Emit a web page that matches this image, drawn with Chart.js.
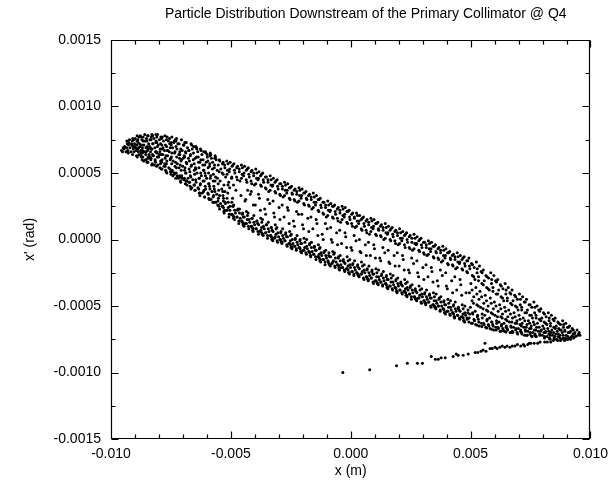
<!DOCTYPE html>
<html>
<head>
<meta charset="utf-8">
<script src="https://cdn.jsdelivr.net/npm/chart.js@4.4.1/dist/chart.umd.min.js"></script>
<style>
  html, body { margin: 0; padding: 0; background: #fff; }
</style>
</head>
<body>
<canvas id="chart" width="615" height="482"></canvas>
<script>
// --- Data: [x in mm, x' in mrad] ---
const chartTitle = 'Particle Distribution Downstream of the Primary Collimator @ Q4';

const xTickValues = [-0.010, -0.005, 0.000, 0.005, 0.010];
const xTickLabels = ['-0.010', '-0.005', '0.000', '0.005', '0.010'];
const yTickValues = [-0.0015, -0.0010, -0.0005, 0.0000, 0.0005, 0.0010, 0.0015];
const yTickLabels = ['-0.0015', '-0.0010', '-0.0005', '0.0000', '0.0005', '0.0010', '0.0015'];

// left end of the ellipse, filled
const leftCore = [
  [-9.56,0.67],[-9.49,0.69],[-9.52,0.66],
  [-9.43,0.70],[-9.37,0.66],[-9.32,0.72],[-9.46,0.68],[-9.35,0.69],
  [-9.26,0.73],[-9.21,0.69],[-9.17,0.66],[-9.13,0.71],[-9.28,0.65],[-9.11,0.74],[-9.23,0.75],
  [-9.06,0.75],[-9.02,0.72],[-8.97,0.69],[-9.04,0.66],[-8.94,0.63],[-8.92,0.74],[-9.08,0.70],[-8.99,0.76],[-8.95,0.67],
  [-8.84,0.77],[-8.87,0.73],[-8.79,0.70],[-8.76,0.67],[-8.83,0.64],[-8.73,0.62],[-8.71,0.75],[-8.89,0.68],[-8.78,0.78],[-8.81,0.72],[-8.74,0.65],
  [-8.66,0.77],[-8.58,0.74],[-8.63,0.71],[-8.54,0.69],[-8.61,0.66],[-8.67,0.62],[-8.56,0.60],[-8.52,0.76],[-8.69,0.69],[-8.59,0.79],[-8.64,0.59],[-8.55,0.64],
  [-8.45,0.78],[-8.38,0.75],[-8.43,0.72],[-8.36,0.69],[-8.48,0.67],[-8.41,0.64],[-8.33,0.61],[-8.46,0.58],[-8.32,0.77],[-8.39,0.70],[-8.35,0.66],[-8.44,0.61],
  [-8.27,0.78],[-8.21,0.76],[-8.25,0.72],[-8.17,0.69],[-8.14,0.66],[-8.23,0.63],[-8.16,0.60],[-8.28,0.57],[-8.12,0.74],[-8.19,0.56],[-8.29,0.68],[-8.13,0.79],
  [-8.06,0.79],[-7.98,0.75],[-8.03,0.71],[-7.95,0.68],[-8.08,0.65],[-8.01,0.62],[-7.93,0.59],[-8.05,0.56],[-7.96,0.54],[-8.09,0.73],[-7.92,0.77],[-7.99,0.64],
  [-7.86,0.77],[-7.81,0.74],[-7.88,0.71],[-7.77,0.67],[-7.84,0.64],[-7.74,0.61],[-7.89,0.58],[-7.79,0.55],[-7.72,0.52],[-7.83,0.69],[-7.75,0.78],[-7.87,0.53],
  [-7.66,0.77],[-7.61,0.74],[-7.68,0.70],[-7.57,0.66],[-7.64,0.63],[-7.53,0.60],[-7.69,0.57],[-7.59,0.54],[-7.52,0.51],[-7.63,0.67],[-7.55,0.72],[-7.67,0.50],
  [-7.46,0.77],[-7.38,0.73],[-7.43,0.69],[-7.35,0.65],[-7.48,0.62],[-7.41,0.59],[-7.33,0.55],[-7.45,0.52],[-7.37,0.49],[-7.49,0.71],[-7.32,0.75],[-7.42,0.48],
  [-7.27,0.76],[-7.21,0.72],[-7.25,0.68],[-7.17,0.64],[-7.14,0.61],[-7.23,0.57],[-7.16,0.54],[-7.28,0.50],[-7.12,0.47],[-7.19,0.46],[-7.29,0.74],[-7.13,0.66],
  [-7.06,0.75],[-6.98,0.71],[-7.03,0.67],[-6.95,0.63],[-7.08,0.59],[-7.01,0.55],[-6.93,0.52],[-7.05,0.48],[-6.96,0.45],[-7.09,0.43],[-6.92,0.73],[-6.99,0.61],
  [-6.86,0.73],[-6.81,0.69],[-6.88,0.65],[-6.77,0.61],[-6.84,0.57],[-6.74,0.53],[-6.89,0.50],[-6.79,0.46],[-6.72,0.43],[-6.83,0.41],[-6.75,0.67],[-6.87,0.44],
  [-6.66,0.72],[-6.61,0.68],[-6.68,0.64],[-6.57,0.60],[-6.64,0.56],[-6.53,0.52],[-6.69,0.48],[-6.59,0.45],[-6.52,0.41],[-6.63,0.39],[-6.55,0.70],[-6.67,0.38],
  [-6.46,0.70],[-6.38,0.66],[-6.43,0.62],[-6.35,0.58],[-6.48,0.54],[-6.41,0.50],[-6.33,0.46],[-6.45,0.43],[-6.37,0.39],[-6.49,0.37],[-6.32,0.35],[-6.42,0.68],
  [-6.27,0.68],[-6.21,0.64],[-6.25,0.60],[-6.17,0.56],[-6.14,0.52],[-6.23,0.48],[-6.16,0.44],[-6.28,0.41],[-6.12,0.37],[-6.19,0.35],[-6.29,0.33],[-6.13,0.66],
  [-6.06,0.66],[-5.98,0.62],[-6.03,0.58],[-5.95,0.54],[-6.08,0.50],[-6.01,0.46],[-5.93,0.42],[-6.05,0.38],[-5.96,0.35],[-6.09,0.32],[-5.92,0.31],[-5.99,0.64],
  [-5.86,0.65],[-5.81,0.61],[-5.88,0.57],[-5.77,0.53],[-5.84,0.48],[-5.74,0.44],[-5.89,0.40],[-5.79,0.36],[-5.72,0.33],[-5.83,0.30],[-5.75,0.28],[-5.87,0.63],
  [-5.66,0.63],[-5.61,0.60],[-5.68,0.56],[-5.57,0.52],[-5.64,0.47],[-5.53,0.42],[-5.69,0.38],[-5.59,0.34],[-5.52,0.31],[-5.63,0.28],[-5.55,0.26],[-5.67,0.61]
];

// second pass over the left end, between the first-pass dots
const leftFill = [
  [-9.30,0.67],[-9.27,0.71],[-9.34,0.74],
  [-9.10,0.64],[-9.07,0.68],[-9.15,0.72],[-9.09,0.76],[-9.02,0.70],
  [-8.90,0.62],[-8.86,0.66],[-8.93,0.71],[-8.88,0.75],[-8.85,0.69],[-8.91,0.78],
  [-8.70,0.60],[-8.75,0.63],[-8.68,0.67],[-8.72,0.71],[-8.66,0.74],[-8.74,0.77],[-8.69,0.65],
  [-8.50,0.58],[-8.46,0.62],[-8.53,0.66],[-8.49,0.70],[-8.51,0.74],[-8.47,0.78],[-8.53,0.60],[-8.44,0.68],
  [-8.30,0.56],[-8.34,0.60],[-8.27,0.64],[-8.31,0.68],[-8.26,0.72],[-8.33,0.75],[-8.29,0.79],[-8.36,0.62],
  [-8.10,0.55],[-8.14,0.58],[-8.07,0.62],[-8.11,0.66],[-8.06,0.70],[-8.13,0.73],[-8.09,0.77],[-8.16,0.59],
  [-7.90,0.53],[-7.94,0.57],[-7.87,0.60],[-7.91,0.64],[-7.86,0.68],[-7.93,0.72],[-7.89,0.76],[-7.96,0.66],
  [-7.70,0.51],[-7.74,0.55],[-7.67,0.59],[-7.71,0.63],[-7.66,0.67],[-7.73,0.71],[-7.69,0.75],[-7.76,0.57],
  [-7.50,0.49],[-7.54,0.53],[-7.47,0.57],[-7.51,0.61],[-7.46,0.65],[-7.53,0.69],[-7.49,0.73],[-7.56,0.76],[-7.44,0.51],
  [-7.30,0.46],[-7.34,0.50],[-7.27,0.54],[-7.31,0.58],[-7.26,0.62],[-7.33,0.66],[-7.29,0.70],[-7.36,0.74],[-7.24,0.48],
  [-7.10,0.44],[-7.14,0.48],[-7.07,0.52],[-7.11,0.56],[-7.06,0.60],[-7.13,0.64],[-7.09,0.68],[-7.16,0.72],[-7.04,0.46],
  [-6.90,0.42],[-6.94,0.46],[-6.87,0.50],[-6.91,0.54],[-6.86,0.58],[-6.93,0.62],[-6.89,0.66],[-6.96,0.71],[-6.84,0.44],
  [-6.70,0.40],[-6.74,0.43],[-6.67,0.47],[-6.71,0.51],[-6.66,0.55],[-6.73,0.59],[-6.69,0.63],[-6.76,0.67],[-6.64,0.71],
  [-6.50,0.37],[-6.54,0.41],[-6.47,0.45],[-6.51,0.49],[-6.46,0.53],[-6.53,0.57],[-6.49,0.61],[-6.56,0.65],[-6.44,0.69],
  [-6.30,0.35],[-6.34,0.38],[-6.27,0.42],[-6.31,0.46],[-6.26,0.50],[-6.33,0.54],[-6.29,0.58],[-6.36,0.62],[-6.24,0.67],
  [-6.10,0.32],[-6.14,0.36],[-6.07,0.40],[-6.11,0.44],[-6.06,0.48],[-6.13,0.52],[-6.09,0.56],[-6.16,0.60],[-6.04,0.65],
  [-5.90,0.30],[-5.94,0.34],[-5.87,0.38],[-5.91,0.42],[-5.86,0.46],[-5.93,0.50],[-5.89,0.55],[-5.96,0.59],[-5.84,0.64],
  [-5.70,0.28],[-5.74,0.32],[-5.67,0.36],[-5.71,0.40],[-5.66,0.44],[-5.73,0.49],[-5.69,0.54],[-5.76,0.58],[-5.64,0.62],
  [-5.50,0.25],[-5.54,0.29],[-5.47,0.33],[-5.51,0.37],[-5.56,0.46],[-5.49,0.51],[-5.53,0.56],[-5.46,0.59]
];

// middle of the ellipse: upper band, sparse hollow, lower band
const midBand = [
  [-5.48,0.60],[-5.35,0.57],[-5.42,0.53],[-5.32,0.49],[-5.45,0.44],[-5.38,0.38],[-5.33,0.33],[-5.47,0.23],[-5.36,0.25],[-5.43,0.27],[-5.31,0.29],
  [-5.17,0.59],[-5.26,0.56],[-5.14,0.52],[-5.22,0.47],[-5.12,0.41],[-5.25,0.36],[-5.16,0.31],[-5.28,0.20],[-5.19,0.22],[-5.11,0.24],[-5.23,0.27],
  [-5.03,0.58],[-4.95,0.55],[-5.07,0.51],[-4.97,0.46],[-5.05,0.39],[-4.93,0.31],[-5.08,0.17],[-4.99,0.19],[-5.04,0.22],[-4.92,0.25],[-4.96,0.28],
  [-4.87,0.57],[-4.76,0.54],[-4.83,0.50],[-4.73,0.45],[-4.79,0.37],[-4.85,0.15],[-4.74,0.17],[-4.81,0.20],[-4.72,0.22],[-4.88,0.26],
  [-4.56,0.56],[-4.65,0.53],[-4.53,0.49],[-4.62,0.44],[-4.58,0.33],[-4.67,0.12],[-4.54,0.14],[-4.61,0.16],[-4.52,0.19],[-4.64,0.23],
  [-4.43,0.55],[-4.36,0.52],[-4.47,0.48],[-4.33,0.43],[-4.41,0.29],[-4.45,0.10],[-4.38,0.12],[-4.32,0.15],[-4.48,0.17],[-4.35,0.21],
  [-4.27,0.54],[-4.16,0.51],[-4.23,0.47],[-4.13,0.42],[-4.19,0.34],[-4.25,0.08],[-4.14,0.10],[-4.21,0.13],[-4.12,0.16],[-4.28,0.20],
  [-3.96,0.53],[-4.05,0.50],[-3.93,0.46],[-4.02,0.41],[-3.98,0.26],[-4.07,0.06],[-3.94,0.08],[-4.01,0.11],[-3.92,0.14],[-4.04,0.18],
  [-3.83,0.51],[-3.76,0.48],[-3.87,0.45],[-3.73,0.40],[-3.81,0.31],[-3.85,0.04],[-3.78,0.06],[-3.72,0.09],[-3.88,0.12],[-3.75,0.16],
  [-3.67,0.50],[-3.56,0.47],[-3.63,0.43],[-3.53,0.38],[-3.59,0.23],[-3.65,0.03],[-3.54,0.05],[-3.61,0.08],[-3.52,0.11],[-3.68,0.15],
  [-3.36,0.48],[-3.45,0.45],[-3.33,0.41],[-3.42,0.36],[-3.38,0.27],[-3.47,0.01],[-3.34,0.03],[-3.41,0.06],[-3.32,0.09],[-3.44,0.13],
  [-3.23,0.46],[-3.16,0.43],[-3.27,0.40],[-3.13,0.35],[-3.21,0.20],[-3.25,-0.01],[-3.18,0.01],[-3.12,0.04],[-3.28,0.07],[-3.15,0.11],
  [-3.07,0.45],[-2.96,0.42],[-3.03,0.38],[-2.93,0.33],[-2.99,0.24],[-3.05,-0.02],[-2.94,0.00],[-3.01,0.02],[-2.92,0.05],[-3.08,0.09],
  [-2.76,0.43],[-2.85,0.40],[-2.73,0.37],[-2.82,0.32],[-2.78,0.17],[-2.87,-0.03],[-2.74,-0.01],[-2.81,0.01],[-2.72,0.04],[-2.84,0.08],
  [-2.63,0.42],[-2.56,0.39],[-2.67,0.35],[-2.53,0.30],[-2.61,0.22],[-2.65,-0.05],[-2.58,-0.03],[-2.52,-0.01],[-2.68,0.02],[-2.55,0.06],
  [-2.47,0.40],[-2.36,0.37],[-2.43,0.34],[-2.33,0.29],[-2.39,0.14],[-2.45,-0.07],[-2.34,-0.05],[-2.41,-0.03],[-2.32,0.00],[-2.48,0.04],
  [-2.16,0.39],[-2.25,0.36],[-2.13,0.33],[-2.22,0.28],[-2.18,0.19],[-2.27,-0.08],[-2.14,-0.06],[-2.21,-0.04],[-2.12,-0.01],[-2.24,0.03],
  [-2.03,0.38],[-1.96,0.35],[-2.07,0.31],[-1.93,0.26],[-2.01,0.11],[-2.05,-0.10],[-1.98,-0.08],[-1.92,-0.06],[-2.08,-0.03],[-1.95,0.01],
  [-1.87,0.36],[-1.76,0.33],[-1.83,0.30],[-1.73,0.25],[-1.79,0.16],[-1.85,-0.11],[-1.74,-0.09],[-1.81,-0.07],[-1.72,-0.04],[-1.84,0.00],
  [-1.56,0.35],[-1.65,0.32],[-1.53,0.28],[-1.62,0.23],[-1.58,0.08],[-1.67,-0.13],[-1.54,-0.11],[-1.61,-0.09],[-1.52,-0.06],[-1.64,-0.02],
  [-1.43,0.33],[-1.36,0.30],[-1.47,0.26],[-1.33,0.21],[-1.41,0.12],[-1.45,-0.15],[-1.38,-0.13],[-1.32,-0.11],[-1.48,-0.08],[-1.35,-0.04],
  [-1.27,0.31],[-1.16,0.28],[-1.23,0.24],[-1.13,0.19],[-1.19,0.04],[-1.25,-0.17],[-1.14,-0.15],[-1.21,-0.12],[-1.12,-0.10],[-1.28,-0.06],
  [-0.96,0.29],[-1.05,0.26],[-0.93,0.22],[-1.02,0.17],[-0.98,0.08],[-1.07,-0.19],[-0.94,-0.17],[-1.01,-0.14],[-0.92,-0.12],[-1.04,-0.08],
  [-0.83,0.27],[-0.76,0.25],[-0.87,0.21],[-0.73,0.16],[-0.81,0.00],[-0.85,-0.20],[-0.78,-0.18],[-0.72,-0.16],[-0.88,-0.13],[-0.75,-0.09],
  [-0.67,0.26],[-0.56,0.23],[-0.63,0.19],[-0.53,0.14],[-0.59,0.05],[-0.65,-0.21],[-0.54,-0.19],[-0.61,-0.17],[-0.52,-0.14],[-0.68,-0.10],
  [-0.36,0.25],[-0.45,0.22],[-0.33,0.18],[-0.42,0.13],[-0.38,-0.03],[-0.47,-0.23],[-0.34,-0.21],[-0.41,-0.19],[-0.32,-0.16],[-0.44,-0.12],
  [-0.23,0.24],[-0.16,0.21],[-0.27,0.17],[-0.13,0.12],[-0.21,0.02],[-0.25,-0.24],[-0.18,-0.22],[-0.12,-0.20],[-0.28,-0.17],[-0.15,-0.13],
  [-0.07,0.22],[0.04,0.19],[-0.03,0.15],[0.07,0.10],[0.01,-0.06],[-0.05,-0.26],[0.06,-0.24],[-0.01,-0.21],[0.08,-0.19],[-0.04,-0.15],
  [0.24,0.20],[0.15,0.17],[0.27,0.14],[0.18,0.09],[0.22,-0.01],[0.13,-0.27],[0.26,-0.25],[0.19,-0.23],[0.28,-0.20],[0.16,-0.16],
  [0.37,0.18],[0.44,0.15],[0.33,0.12],[0.47,0.07],[0.39,-0.09],[0.35,-0.28],[0.42,-0.26],[0.48,-0.24],[0.32,-0.21],[0.45,-0.17],
  [0.53,0.17],[0.64,0.14],[0.57,0.10],[0.67,0.05],[0.61,-0.04],[0.55,-0.30],[0.66,-0.28],[0.59,-0.25],[0.68,-0.23],[0.56,-0.19],
  [0.84,0.16],[0.75,0.13],[0.87,0.09],[0.78,0.04],[0.82,-0.12],[0.73,-0.31],[0.86,-0.29],[0.79,-0.27],[0.88,-0.24],[0.76,-0.20],
  [0.97,0.15],[1.04,0.12],[0.93,0.08],[1.07,0.03],[0.99,-0.07],[0.95,-0.33],[1.02,-0.31],[1.08,-0.28],[0.92,-0.26],[1.05,-0.22],
  [1.13,0.13],[1.24,0.10],[1.17,0.07],[1.27,0.02],[1.21,-0.14],[1.15,-0.34],[1.26,-0.32],[1.19,-0.30],[1.28,-0.27],[1.16,-0.23],
  [1.44,0.12],[1.35,0.09],[1.47,0.05],[1.38,0.00],[1.42,-0.10],[1.33,-0.35],[1.46,-0.33],[1.39,-0.31],[1.48,-0.28],[1.36,-0.24],
  [1.57,0.10],[1.64,0.07],[1.53,0.04],[1.67,-0.01],[1.59,-0.17],[1.55,-0.37],[1.62,-0.35],[1.68,-0.32],[1.52,-0.30],[1.65,-0.26],
  [1.73,0.09],[1.84,0.06],[1.77,0.02],[1.87,-0.03],[1.81,-0.12],[1.75,-0.38],[1.86,-0.36],[1.79,-0.34],[1.88,-0.31],[1.76,-0.27],
  [2.04,0.08],[1.95,0.05],[2.07,0.01],[1.98,-0.04],[2.02,-0.20],[1.93,-0.40],[2.06,-0.38],[1.99,-0.35],[2.08,-0.33],[1.96,-0.29],
  [2.17,0.06],[2.24,0.03],[2.13,-0.01],[2.27,-0.06],[2.19,-0.15],[2.15,-0.41],[2.22,-0.39],[2.28,-0.37],[2.12,-0.34],[2.25,-0.30],
  [2.33,0.05],[2.44,0.02],[2.37,-0.02],[2.47,-0.07],[2.41,-0.23],[2.35,-0.43],[2.46,-0.41],[2.39,-0.38],[2.48,-0.36],[2.36,-0.32],
  [2.64,0.04],[2.55,0.01],[2.67,-0.03],[2.58,-0.08],[2.62,-0.18],[2.53,-0.45],[2.66,-0.43],[2.59,-0.40],[2.68,-0.38],[2.56,-0.34],
  [2.77,0.02],[2.84,-0.01],[2.73,-0.04],[2.87,-0.09],[2.79,-0.25],[2.75,-0.46],[2.82,-0.44],[2.88,-0.42],[2.72,-0.39],[2.85,-0.35],
  [2.93,0.01],[3.04,-0.02],[2.97,-0.06],[3.07,-0.11],[3.01,-0.21],[2.95,-0.48],[3.06,-0.46],[2.99,-0.43],[3.08,-0.41],[2.96,-0.37],
  [3.24,-0.01],[3.15,-0.04],[3.27,-0.07],[3.18,-0.12],[3.22,-0.28],[3.13,-0.49],[3.26,-0.47],[3.19,-0.45],[3.28,-0.42],[3.16,-0.38],
  [3.37,-0.02],[3.44,-0.05],[3.33,-0.09],[3.47,-0.14],[3.39,-0.24],[3.35,-0.51],[3.42,-0.49],[3.48,-0.46],[3.32,-0.44],[3.45,-0.40],
  [3.53,-0.04],[3.64,-0.07],[3.57,-0.10],[3.67,-0.15],[3.61,-0.31],[3.55,-0.52],[3.66,-0.50],[3.59,-0.48],[3.68,-0.45],[3.56,-0.41],
  [3.84,-0.05],[3.75,-0.08],[3.87,-0.12],[3.78,-0.17],[3.82,-0.27],[3.73,-0.54],[3.86,-0.52],[3.79,-0.50],[3.88,-0.47],[3.76,-0.43],
  [3.97,-0.07],[4.04,-0.10],[3.93,-0.14],[4.07,-0.19],[3.99,-0.35],[3.95,-0.56],[4.02,-0.54],[4.08,-0.51],[3.92,-0.49],[4.05,-0.45],
  [4.13,-0.09],[4.24,-0.12],[4.17,-0.15],[4.27,-0.20],[4.21,-0.31],[4.15,-0.57],[4.26,-0.55],[4.19,-0.53],[4.28,-0.50],[4.16,-0.46],
  [4.44,-0.10],[4.35,-0.13],[4.47,-0.17],[4.38,-0.22],[4.42,-0.38],[4.33,-0.59],[4.46,-0.57],[4.39,-0.54],[4.48,-0.52],[4.36,-0.47],
  [4.57,-0.12],[4.64,-0.15],[4.53,-0.18],[4.67,-0.23],[4.59,-0.34],[4.55,-0.60],[4.62,-0.58],[4.68,-0.56],[4.52,-0.53],[4.65,-0.49],
  [4.73,-0.13],[4.84,-0.16],[4.77,-0.20],[4.87,-0.25],[4.81,-0.40],[4.75,-0.62],[4.86,-0.60],[4.79,-0.57],[4.88,-0.55],[4.76,-0.50]
];

// second pass over the two bands of the middle part
const midFill = [
  [-5.32,0.58],[-5.25,0.54],[-5.36,0.50],[-5.27,0.22],[-5.35,0.25],[-5.24,0.28],[-5.31,0.31],[-5.29,0.41],[-5.34,0.36],
  [-5.12,0.57],[-5.05,0.53],[-5.16,0.49],[-5.07,0.19],[-5.15,0.22],[-5.04,0.25],[-5.11,0.28],[-5.09,0.43],[-5.13,0.35],
  [-4.92,0.56],[-4.85,0.52],[-4.96,0.47],[-4.87,0.17],[-4.95,0.19],[-4.84,0.22],[-4.91,0.25],[-4.89,0.41],
  [-4.72,0.55],[-4.65,0.51],[-4.76,0.47],[-4.67,0.14],[-4.75,0.17],[-4.64,0.20],[-4.71,0.23],
  [-4.52,0.54],[-4.45,0.50],[-4.56,0.46],[-4.47,0.12],[-4.55,0.14],[-4.44,0.17],[-4.51,0.20],
  [-4.32,0.53],[-4.25,0.49],[-4.36,0.45],[-4.27,0.10],[-4.35,0.12],[-4.24,0.15],[-4.31,0.18],
  [-4.12,0.52],[-4.05,0.48],[-4.16,0.44],[-4.07,0.08],[-4.15,0.10],[-4.04,0.13],[-4.11,0.16],
  [-3.92,0.50],[-3.85,0.46],[-3.96,0.42],[-3.87,0.06],[-3.95,0.08],[-3.84,0.11],[-3.91,0.14],
  [-3.72,0.49],[-3.65,0.45],[-3.76,0.41],[-3.67,0.04],[-3.75,0.07],[-3.64,0.10],[-3.71,0.13],
  [-3.52,0.47],[-3.45,0.43],[-3.56,0.39],[-3.47,0.03],[-3.55,0.05],[-3.44,0.08],[-3.51,0.11],
  [-3.32,0.45],[-3.25,0.41],[-3.36,0.37],[-3.27,0.01],[-3.35,0.03],[-3.24,0.06],[-3.31,0.09],
  [-3.12,0.44],[-3.05,0.40],[-3.16,0.36],[-3.07,-0.01],[-3.15,0.02],[-3.04,0.05],[-3.11,0.08],
  [-2.92,0.42],[-2.85,0.38],[-2.96,0.34],[-2.87,-0.02],[-2.95,0.00],[-2.84,0.03],[-2.91,0.06],
  [-2.72,0.41],[-2.65,0.37],[-2.76,0.33],[-2.67,-0.04],[-2.75,-0.01],[-2.64,0.02],[-2.71,0.05],
  [-2.52,0.39],[-2.45,0.35],[-2.56,0.31],[-2.47,-0.05],[-2.55,-0.03],[-2.44,0.00],[-2.51,0.03],
  [-2.32,0.38],[-2.25,0.34],[-2.36,0.30],[-2.27,-0.07],[-2.35,-0.05],[-2.24,-0.02],[-2.31,0.01],
  [-2.12,0.37],[-2.05,0.33],[-2.16,0.29],[-2.07,-0.09],[-2.15,-0.06],[-2.04,-0.03],[-2.11,0.00],
  [-1.92,0.35],[-1.85,0.31],[-1.96,0.27],[-1.87,-0.10],[-1.95,-0.08],[-1.84,-0.05],[-1.91,-0.02],
  [-1.72,0.34],[-1.65,0.30],[-1.76,0.26],[-1.67,-0.12],[-1.75,-0.09],[-1.64,-0.06],[-1.71,-0.03],
  [-1.52,0.32],[-1.45,0.28],[-1.56,0.24],[-1.47,-0.13],[-1.55,-0.11],[-1.44,-0.08],[-1.51,-0.05],
  [-1.32,0.30],[-1.25,0.26],[-1.36,0.22],[-1.27,-0.15],[-1.35,-0.13],[-1.24,-0.10],[-1.31,-0.07],
  [-1.12,0.28],[-1.05,0.24],[-1.16,0.20],[-1.07,-0.17],[-1.15,-0.15],[-1.04,-0.12],[-1.11,-0.09],
  [-0.92,0.26],[-0.85,0.22],[-0.96,0.18],[-0.87,-0.19],[-0.95,-0.16],[-0.84,-0.13],[-0.91,-0.10],
  [-0.72,0.25],[-0.65,0.21],[-0.76,0.17],[-0.67,-0.20],[-0.75,-0.17],[-0.64,-0.14],[-0.71,-0.11],
  [-0.52,0.24],[-0.45,0.20],[-0.56,0.16],[-0.47,-0.21],[-0.55,-0.19],[-0.44,-0.16],[-0.51,-0.13],
  [-0.32,0.23],[-0.25,0.19],[-0.36,0.15],[-0.27,-0.23],[-0.35,-0.21],[-0.24,-0.18],[-0.31,-0.15],
  [-0.12,0.21],[-0.05,0.17],[-0.16,0.13],[-0.07,-0.25],[-0.15,-0.22],[-0.04,-0.19],[-0.11,-0.16],
  [0.08,0.20],[0.15,0.16],[0.04,0.12],[0.13,-0.26],[0.05,-0.24],[0.16,-0.21],[0.09,-0.18],
  [0.28,0.18],[0.35,0.14],[0.24,0.10],[0.33,-0.27],[0.25,-0.25],[0.36,-0.22],[0.29,-0.19],
  [0.48,0.16],[0.55,0.12],[0.44,0.08],[0.53,-0.29],[0.45,-0.26],[0.56,-0.23],[0.49,-0.20],
  [0.68,0.15],[0.75,0.11],[0.64,0.07],[0.73,-0.30],[0.65,-0.28],[0.76,-0.25],[0.69,-0.22],
  [0.88,0.14],[0.95,0.10],[0.84,0.06],[0.93,-0.32],[0.85,-0.29],[0.96,-0.26],[0.89,-0.23],
  [1.08,0.12],[1.15,0.08],[1.04,0.04],[1.13,-0.33],[1.05,-0.31],[1.16,-0.28],[1.09,-0.25],
  [1.28,0.11],[1.35,0.07],[1.24,0.03],[1.33,-0.34],[1.25,-0.32],[1.36,-0.29],[1.29,-0.26],
  [1.48,0.09],[1.55,0.05],[1.44,0.01],[1.53,-0.36],[1.45,-0.33],[1.56,-0.30],[1.49,-0.27],
  [1.68,0.08],[1.75,0.04],[1.64,0.00],[1.73,-0.37],[1.65,-0.35],[1.76,-0.32],[1.69,-0.29],
  [1.88,0.07],[1.95,0.03],[1.84,-0.01],[1.93,-0.39],[1.85,-0.36],[1.96,-0.33],[1.89,-0.30],
  [2.08,0.05],[2.15,0.01],[2.04,-0.03],[2.13,-0.40],[2.05,-0.38],[2.16,-0.35],[2.09,-0.32],
  [2.28,0.04],[2.35,0.00],[2.24,-0.04],[2.33,-0.42],[2.25,-0.39],[2.36,-0.36],[2.29,-0.33],
  [2.48,0.03],[2.55,-0.02],[2.44,-0.06],[2.53,-0.43],[2.45,-0.41],[2.56,-0.38],[2.49,-0.35],
  [2.68,0.01],[2.75,-0.03],[2.64,-0.07],[2.73,-0.45],[2.65,-0.43],[2.76,-0.40],[2.69,-0.37],
  [2.88,0.00],[2.95,-0.04],[2.84,-0.08],[2.93,-0.47],[2.85,-0.44],[2.96,-0.41],[2.89,-0.38],
  [3.08,-0.02],[3.15,-0.06],[3.04,-0.10],[3.13,-0.48],[3.05,-0.46],[3.16,-0.43],[3.09,-0.40],
  [3.28,-0.03],[3.35,-0.07],[3.24,-0.11],[3.33,-0.50],[3.25,-0.47],[3.36,-0.44],[3.29,-0.41],
  [3.48,-0.05],[3.55,-0.09],[3.44,-0.13],[3.53,-0.51],[3.45,-0.49],[3.56,-0.46],[3.49,-0.43],
  [3.68,-0.06],[3.75,-0.10],[3.64,-0.14],[3.73,-0.53],[3.65,-0.50],[3.76,-0.47],[3.69,-0.44],
  [3.88,-0.08],[3.95,-0.12],[3.84,-0.16],[3.93,-0.55],[3.85,-0.52],[3.96,-0.49],[3.89,-0.46],
  [4.08,-0.10],[4.15,-0.14],[4.04,-0.18],[4.13,-0.56],[4.05,-0.54],[4.16,-0.51],[4.09,-0.48],
  [4.28,-0.11],[4.35,-0.15],[4.24,-0.19],[4.33,-0.58],[4.25,-0.55],[4.36,-0.52],[4.29,-0.49],
  [4.48,-0.13],[4.55,-0.17],[4.44,-0.21],[4.53,-0.59],[4.45,-0.57],[4.56,-0.54],[4.49,-0.51],
  [4.68,-0.14],[4.75,-0.18],[4.64,-0.22],[4.73,-0.61],[4.65,-0.58],[4.76,-0.55],[4.69,-0.52],
  [4.88,-0.16],[4.95,-0.20],[4.84,-0.24],[4.93,-0.62],[4.85,-0.59],[4.96,-0.56],[4.89,-0.53]
];

// loose particles inside the hollow of the ring
const hollow = [
  [-4.38,0.30],[-4.30,0.37],[-4.06,0.26],[-4.15,0.36],[-3.77,0.22],[-3.85,0.34],[-3.46,0.30],[-3.55,0.19],
  [-3.18,0.17],[-3.24,0.29],[-2.86,0.26],[-2.95,0.15],[-2.57,0.12],[-2.64,0.24],[-2.26,0.21],[-2.35,0.10],
  [-1.97,0.08],[-2.04,0.19],[-1.66,0.17],[-1.75,0.06],[-1.37,0.03],[-1.44,0.15],[-1.06,0.12],[-1.15,0.00],
  [-0.77,-0.02],[-0.84,0.09],[-0.46,0.07],[-0.55,-0.04],[-0.17,-0.06],[-0.24,0.05],[0.14,0.03],[0.05,-0.08],
  [0.43,-0.10],[0.36,0.00],[0.74,-0.02],[0.65,-0.12],[1.03,-0.14],[0.96,-0.04],[1.34,-0.06],[1.25,-0.16],
  [1.63,-0.18],[1.56,-0.08],[1.94,-0.10],[1.85,-0.20],[2.23,-0.23],[2.16,-0.12],[2.54,-0.14],[2.45,-0.25],
  [2.83,-0.28],[2.76,-0.16],[3.14,-0.19],[3.05,-0.30],[3.43,-0.32],[3.36,-0.21],[3.74,-0.23],[3.65,-0.35],
  [4.03,-0.37],[3.96,-0.25],[4.34,-0.28],[4.25,-0.40],[4.63,-0.42],[4.56,-0.30]
];

// the dark rim along the lower edge
const lowerRim = [
  [-5.31,0.24],[-5.29,0.21],[-4.91,0.18],[-4.89,0.16],[-4.51,0.13],[-4.49,0.11],[-4.11,0.09],[-4.09,0.07],
  [-3.71,0.05],[-3.69,0.04],[-3.31,0.02],[-3.29,0.00],[-2.91,-0.01],[-2.89,-0.02],[-2.51,-0.04],[-2.49,-0.06],
  [-2.11,-0.07],[-2.09,-0.09],[-1.71,-0.10],[-1.69,-0.12],[-1.31,-0.14],[-1.29,-0.16],[-0.91,-0.18],[-0.89,-0.19],
  [-0.51,-0.20],[-0.49,-0.22],[-0.11,-0.23],[-0.09,-0.25],[0.29,-0.26],[0.31,-0.27],[0.69,-0.29],[0.71,-0.30],
  [1.09,-0.32],[1.11,-0.33],[1.49,-0.34],[1.51,-0.36],[1.89,-0.37],[1.91,-0.39],[2.29,-0.40],[2.31,-0.42],
  [2.69,-0.44],[2.71,-0.45],[3.09,-0.47],[3.11,-0.48],[3.49,-0.50],[3.51,-0.51],[3.89,-0.53],[3.91,-0.55],
  [4.29,-0.56],[4.31,-0.58],[4.69,-0.59],[4.71,-0.61]
];

// right end of the ellipse, filled
const rightCore = [
  [4.93,-0.14],[5.04,-0.18],[4.97,-0.22],[5.07,-0.27],[5.01,-0.33],[4.95,-0.40],[5.06,-0.46],[4.99,-0.51],[5.08,-0.55],[4.94,-0.59],[5.03,-0.63],
  [5.24,-0.17],[5.15,-0.21],[5.27,-0.25],[5.18,-0.30],[5.22,-0.36],[5.13,-0.43],[5.26,-0.49],[5.19,-0.54],[5.28,-0.58],[5.16,-0.61],[5.21,-0.64],
  [5.37,-0.20],[5.44,-0.24],[5.33,-0.28],[5.47,-0.33],[5.39,-0.39],[5.35,-0.45],[5.42,-0.51],[5.48,-0.56],[5.32,-0.60],[5.45,-0.63],[5.36,-0.65],
  [5.53,-0.23],[5.64,-0.27],[5.57,-0.31],[5.67,-0.36],[5.61,-0.42],[5.55,-0.48],[5.66,-0.53],[5.59,-0.57],[5.68,-0.61],[5.56,-0.64],[5.63,-0.66],
  [5.84,-0.25],[5.75,-0.29],[5.87,-0.33],[5.78,-0.38],[5.82,-0.44],[5.73,-0.50],[5.86,-0.55],[5.79,-0.59],[5.88,-0.62],[5.76,-0.65],[5.81,-0.67],
  [5.97,-0.27],[6.04,-0.31],[5.93,-0.36],[6.07,-0.41],[5.99,-0.47],[5.95,-0.52],[6.02,-0.57],[6.08,-0.61],[5.92,-0.64],[6.05,-0.66],[5.96,-0.68],
  [6.13,-0.30],[6.24,-0.34],[6.17,-0.38],[6.27,-0.43],[6.21,-0.49],[6.15,-0.54],[6.26,-0.58],[6.19,-0.62],[6.28,-0.65],[6.16,-0.67],[6.23,-0.69],
  [6.44,-0.33],[6.35,-0.37],[6.47,-0.41],[6.38,-0.46],[6.42,-0.51],[6.33,-0.56],[6.46,-0.60],[6.39,-0.63],[6.48,-0.66],[6.36,-0.68],[6.41,-0.69],
  [6.57,-0.36],[6.64,-0.40],[6.53,-0.44],[6.67,-0.48],[6.59,-0.53],[6.55,-0.58],[6.62,-0.62],[6.68,-0.65],[6.52,-0.67],[6.65,-0.70],
  [6.73,-0.38],[6.84,-0.42],[6.77,-0.46],[6.87,-0.50],[6.81,-0.55],[6.75,-0.59],[6.86,-0.63],[6.79,-0.66],[6.88,-0.68],[6.76,-0.70],
  [7.04,-0.41],[6.95,-0.45],[7.07,-0.49],[6.98,-0.53],[7.02,-0.57],[6.93,-0.61],[7.06,-0.64],[6.99,-0.67],[7.08,-0.69],[6.96,-0.71],
  [7.17,-0.43],[7.24,-0.47],[7.13,-0.51],[7.27,-0.55],[7.19,-0.59],[7.15,-0.63],[7.22,-0.66],[7.28,-0.68],[7.12,-0.70],[7.25,-0.72],
  [7.33,-0.45],[7.44,-0.49],[7.37,-0.53],[7.47,-0.57],[7.41,-0.61],[7.35,-0.64],[7.46,-0.67],[7.39,-0.69],[7.48,-0.71],[7.36,-0.72],
  [7.64,-0.47],[7.55,-0.51],[7.67,-0.55],[7.58,-0.59],[7.62,-0.62],[7.53,-0.65],[7.66,-0.68],[7.59,-0.70],[7.68,-0.72],[7.56,-0.73],
  [7.77,-0.50],[7.84,-0.53],[7.73,-0.57],[7.87,-0.60],[7.79,-0.63],[7.75,-0.66],[7.82,-0.69],[7.88,-0.71],[7.72,-0.73],
  [7.93,-0.52],[8.04,-0.55],[7.97,-0.59],[8.07,-0.62],[8.01,-0.65],[7.95,-0.68],[8.06,-0.70],[7.99,-0.72],[8.08,-0.74],
  [8.24,-0.55],[8.15,-0.58],[8.27,-0.61],[8.18,-0.64],[8.22,-0.67],[8.13,-0.69],[8.26,-0.71],[8.19,-0.73],[8.28,-0.74],
  [8.37,-0.57],[8.44,-0.60],[8.33,-0.63],[8.47,-0.66],[8.39,-0.68],[8.35,-0.70],[8.42,-0.72],[8.48,-0.74],[8.32,-0.75],
  [8.53,-0.59],[8.64,-0.62],[8.57,-0.65],[8.67,-0.67],[8.61,-0.69],[8.55,-0.71],[8.66,-0.73],[8.59,-0.75],
  [8.84,-0.61],[8.75,-0.64],[8.87,-0.66],[8.78,-0.68],[8.82,-0.70],[8.73,-0.72],[8.86,-0.74],[8.79,-0.75],
  [8.97,-0.63],[9.04,-0.66],[8.93,-0.68],[9.07,-0.70],[8.99,-0.72],[8.95,-0.74],[9.06,-0.75],
  [9.13,-0.65],[9.24,-0.67],[9.17,-0.69],[9.27,-0.71],[9.21,-0.73],[9.15,-0.74],
  [9.44,-0.68],[9.35,-0.70],[9.47,-0.72],[9.38,-0.73],
  [9.53,-0.70],[9.56,-0.72],[9.51,-0.71]
];

// second pass over the right end
const rightFill = [
  [5.08,-0.19],[5.13,-0.28],[5.06,-0.38],[5.12,-0.48],[5.09,-0.56],[5.14,-0.60],[5.07,-0.63],
  [5.28,-0.22],[5.33,-0.31],[5.26,-0.41],[5.32,-0.50],[5.29,-0.57],[5.34,-0.62],[5.27,-0.645],
  [5.48,-0.25],[5.53,-0.34],[5.46,-0.43],[5.52,-0.52],[5.49,-0.59],[5.54,-0.63],[5.47,-0.655],
  [5.68,-0.28],[5.73,-0.37],[5.66,-0.46],[5.72,-0.54],[5.69,-0.60],[5.74,-0.64],[5.67,-0.665],
  [5.88,-0.30],[5.93,-0.39],[5.86,-0.48],[5.92,-0.56],[5.89,-0.62],[5.94,-0.65],[5.87,-0.675],
  [6.08,-0.32],[6.13,-0.41],[6.06,-0.50],[6.12,-0.58],[6.09,-0.63],[6.14,-0.66],[6.07,-0.68],
  [6.28,-0.35],[6.33,-0.44],[6.26,-0.52],[6.32,-0.59],[6.29,-0.64],[6.34,-0.67],[6.27,-0.69],
  [6.48,-0.38],[6.53,-0.46],[6.46,-0.54],[6.52,-0.61],[6.49,-0.65],[6.54,-0.68],[6.47,-0.695],
  [6.68,-0.41],[6.73,-0.49],[6.66,-0.56],[6.72,-0.62],[6.69,-0.66],[6.74,-0.69],[6.67,-0.70],
  [6.88,-0.43],[6.93,-0.51],[6.86,-0.58],[6.92,-0.63],[6.89,-0.67],[6.94,-0.70],
  [7.08,-0.45],[7.13,-0.53],[7.06,-0.60],[7.12,-0.65],[7.09,-0.68],[7.14,-0.71],
  [7.28,-0.47],[7.33,-0.55],[7.26,-0.61],[7.32,-0.66],[7.29,-0.69],[7.34,-0.72],
  [7.48,-0.49],[7.53,-0.57],[7.46,-0.63],[7.52,-0.67],[7.49,-0.70],[7.54,-0.725],
  [7.68,-0.51],[7.73,-0.59],[7.66,-0.64],[7.72,-0.68],[7.69,-0.71],[7.74,-0.73],
  [7.88,-0.54],[7.93,-0.61],[7.86,-0.66],[7.92,-0.69],[7.89,-0.72],
  [8.08,-0.56],[8.13,-0.63],[8.06,-0.67],[8.12,-0.70],[8.09,-0.73],
  [8.28,-0.59],[8.33,-0.65],[8.26,-0.69],[8.32,-0.72],[8.29,-0.745],
  [8.48,-0.61],[8.53,-0.67],[8.46,-0.70],[8.52,-0.73],[8.49,-0.75],
  [8.68,-0.63],[8.73,-0.68],[8.66,-0.71],[8.72,-0.74],
  [8.88,-0.64],[8.93,-0.69],[8.86,-0.72],[8.92,-0.745],
  [9.08,-0.66],[9.13,-0.70],[9.06,-0.73],
  [9.28,-0.68],[9.33,-0.71],[9.26,-0.73]
];

// the thin tail running back under the ellipse
const tail = [
  [-0.33,-1.00],[0.79,-0.98],[1.91,-0.95],[2.36,-0.93],[2.78,-0.93],[2.99,-0.93],[3.36,-0.88],[3.53,-0.90],
  [3.65,-0.90],[3.77,-0.89],[3.94,-0.89],[4.27,-0.88],[4.40,-0.86],[4.48,-0.87],[4.69,-0.87],[4.90,-0.86],
  [5.19,-0.85],[5.30,-0.85],[5.43,-0.84],[5.52,-0.83],[5.60,-0.78],[5.64,-0.84],[5.81,-0.82],[5.90,-0.82],
  [6.02,-0.81],[6.10,-0.82],[6.22,-0.81],[6.32,-0.80],[6.43,-0.81],[6.52,-0.80],[6.64,-0.81],[6.74,-0.80],
  [6.85,-0.80],[6.95,-0.79],[7.09,-0.80],[7.20,-0.79],[7.25,-0.80],[7.38,-0.79],[7.45,-0.78],[7.51,-0.78],
  [7.65,-0.78],[7.80,-0.78],[7.90,-0.77],[8.09,-0.77],[8.20,-0.77],[8.34,-0.77],[8.45,-0.76],[8.63,-0.76],
  [8.75,-0.76],[8.92,-0.76],[9.00,-0.75],[9.17,-0.75],[9.30,-0.74]
];

// mm / mrad -> m / rad
const toSI = p => ({ x: p[0] / 1000, y: p[1] / 1000 });
const points = [
    ...leftCore, ...leftFill, ...midBand, ...midFill, ...hollow, ...lowerRim,
    ...rightCore, ...rightFill, ...tail
].map(toSI);

const FONT = '"Liberation Sans", Arial, Helvetica, sans-serif';
Chart.defaults.font.family = FONT;
Chart.defaults.font.size = 14;
Chart.defaults.color = '#000';

// gnuplot-like box with inward ticks on all four sides
const frameTicks = {
    id: 'frameTicks',
    afterDatasetsDraw(chart) {
        const { ctx, chartArea: a } = chart;
        const xs = chart.scales.x, ys = chart.scales.y;
        const L = Math.round(a.left) + 0.5, R = Math.round(a.right) - 0.5;
        const T = Math.round(a.top) + 0.5, B = Math.round(a.bottom) - 0.5;
        ctx.save();
        ctx.strokeStyle = '#000';
        ctx.lineWidth = 1.2;
        ctx.beginPath();
        ctx.rect(L, T, R - L, B - T);
        for (let i = -10; i <= 10; i++) {
            const px = Math.round(xs.getPixelForValue(i / 1000)) + 0.5;
            const len = i % 5 === 0 ? 7 : 4;
            ctx.moveTo(px, B); ctx.lineTo(px, B - len);
            ctx.moveTo(px, T); ctx.lineTo(px, T + len);
        }
        for (let j = -6; j <= 6; j++) {
            const py = Math.round(ys.getPixelForValue(j * 0.00025)) + 0.5;
            const len = j % 2 === 0 ? 7 : 4;
            ctx.moveTo(L, py); ctx.lineTo(L + len, py);
            ctx.moveTo(R, py); ctx.lineTo(R - len, py);
        }
        ctx.stroke();
        ctx.restore();
    }
};

// title sits a bit right of the plot centre in the scan
const headline = {
    id: 'headline',
    afterDraw(chart) {
        const { ctx, chartArea: a } = chart;
        ctx.save();
        ctx.font = '14px ' + FONT;
        ctx.fillStyle = '#000';
        ctx.textAlign = 'center';
        ctx.textBaseline = 'middle';
        ctx.fillText(chartTitle, (a.left + a.right) / 2 + 15, 14);
        ctx.restore();
    }
};

new Chart(document.getElementById('chart'), {
    type: 'scatter',
    data: {
        datasets: [{
            data: points,
            backgroundColor: '#000',
            borderWidth: 0,
            pointRadius: 1.5,
            pointHoverRadius: 1.5
        }]
    },
    options: {
        responsive: false,
        animation: false,
        devicePixelRatio: 1,
        events: [],
        layout: { padding: { top: 40, right: 22, bottom: 0, left: 0 } },
        plugins: {
            legend: { display: false },
            tooltip: { enabled: false },
            title: { display: false }
        },
        scales: {
            x: {
                type: 'linear',
                min: -0.01,
                max: 0.01,
                afterBuildTicks: s => { s.ticks = xTickValues.map(v => ({ value: v })); },
                afterFit: s => { s.height = 43; },
                grid: { display: false, drawTicks: false },
                border: { display: false },
                ticks: {
                    padding: 7,
                    autoSkip: false,
                    maxRotation: 0,
                    callback: (v, i) => xTickLabels[i]
                },
                title: { display: true, text: 'x (m)', padding: { top: 0, bottom: 2 } }
            },
            y: {
                type: 'linear',
                min: -0.0015,
                max: 0.0015,
                afterBuildTicks: s => { s.ticks = yTickValues.map(v => ({ value: v })); },
                afterFit: s => { s.width = 111; },
                grid: { display: false, drawTicks: false },
                border: { display: false },
                ticks: {
                    padding: 10,
                    autoSkip: false,
                    callback: (v, i) => yTickLabels[i]
                },
                title: { display: true, text: "x' (rad)", padding: { top: 22, bottom: 0 } }
            }
        }
    },
    plugins: [frameTicks, headline]
});
</script>
</body>
</html>
